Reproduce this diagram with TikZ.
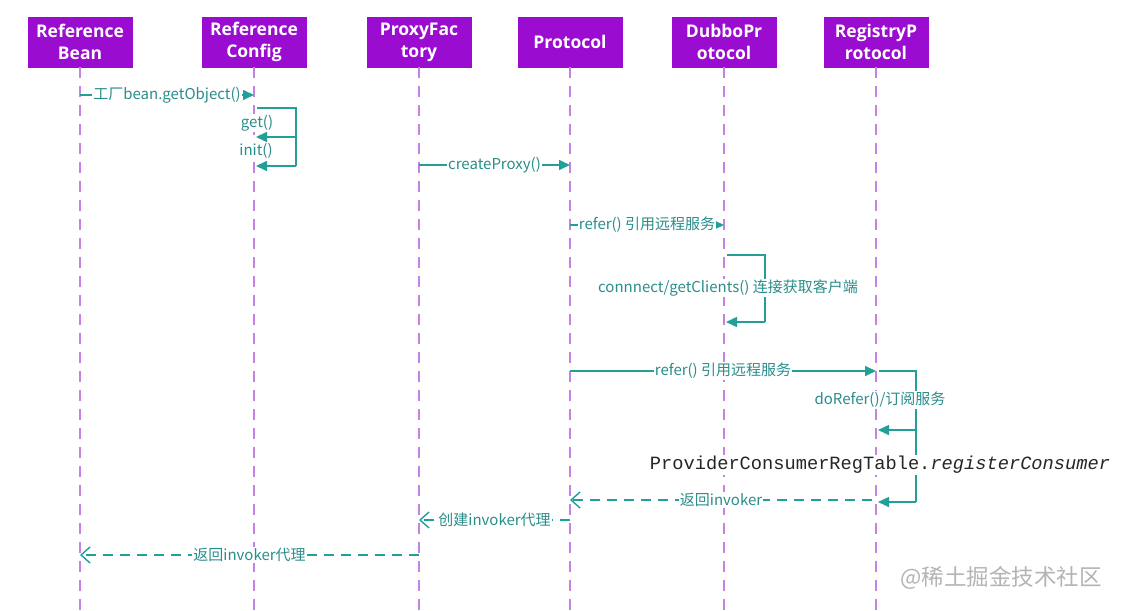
\documentclass[tikz,border=0pt]{standalone}
\usepackage{fontspec}
\setmainfont{Open Sans}
\newfontfamily\cjk{Noto Sans CJK SC}
\newfontfamily\mono{Liberation Mono}
\usetikzlibrary{arrows.meta}
\definecolor{boxpurple}{HTML}{9A0CCF}
\definecolor{lifepurple}{HTML}{C682E2}
\definecolor{tealline}{HTML}{22A098}
\definecolor{tealtext}{HTML}{2A8E8C}
\definecolor{wmgray}{HTML}{B4B4B4}
\tikzset{
  actor/.style={fill=boxpurple, draw=boxpurple, minimum width=104pt, minimum height=50pt,
    text=white, font=\bfseries\fontsize{17.5}{22}\selectfont, align=center, inner sep=0pt},
  life/.style={draw=lifepurple, line width=2pt, dash pattern=on 11pt off 8pt},
  msg/.style={draw=tealline, line width=1.6pt, -{Triangle[length=11pt,width=10pt]}},
  selfl/.style={draw=tealline, line width=1.6pt},
  ret/.style={draw=tealline, line width=1.6pt, dash pattern=on 10pt off 7pt,
    -{Straight Barb[length=9pt,width=16pt,line width=1.4pt]}},
  lbl/.style={fill=white, text=tealtext, font=\cjk\fontsize{15}{17}\selectfont, inner sep=1pt},
}
\begin{document}
\begin{tikzpicture}[x=1pt,y=-1pt]
\useasboundingbox[fill=white] (0,0) rectangle (1123,610);
% actors
\node[actor] (rb) at (80,42) {Reference\\Bean};
\node[actor] (rc) at (254,42) {Reference\\Config};
\node[actor] (pf) at (419,42) {ProxyFac\\tory};
\node[actor] (pr) at (570,42) {Protocol};
\node[actor] (dp) at (724,42) {DubboPr\\otocol};
\node[actor] (rp) at (876,42) {RegistryP\\rotocol};
% lifelines
\foreach \n in {rb,rc,pf,pr,dp,rp}{
  \coordinate (\n end) at (\n |- 0,610);
  \draw[life] (\n.south) -- (\n end);
}
% 1
\draw[msg] (rb |- 0,95) -- node[lbl]{工厂bean.getObject()} (rc |- 0,95);
% self calls on ReferenceConfig
\coordinate (rcA) at (296,108);
\coordinate (rcB) at (296,166);
\draw[selfl] ([xshift=3pt]rc |- rcA) -- (rcA) -- (rcB);
\draw[msg] (rcA |- 0,137) -- ([xshift=2pt]rc |- 0,137);
\draw[msg] (rcB) -- ([xshift=2pt]rc |- rcB);
\node[lbl, anchor=center] (lget) at (257,123) {get()};
\node[lbl, anchor=center] (linit) at (256,151) {init()};
% createProxy
\draw[msg] (pf |- 0,165) -- node[lbl]{createProxy()} (pr |- 0,165);
% refer to Dubbo
\draw[msg] (pr |- 0,225) -- node[lbl]{refer() 引用远程服务} (dp |- 0,225);
% self on DubboProtocol
\coordinate (dpA) at (765,255);
\coordinate (dpB) at (765,322);
\draw[selfl] ([xshift=3pt]dp |- dpA) -- (dpA) -- (dpB);
\draw[msg] (dpB) -- ([xshift=2pt]dp |- dpB);
\node[lbl] (lconn) at (728,288) {connnect/getClients() 连接获取客户端};
% refer to Registry
\draw[msg] (pr |- 0,371) -- node[lbl]{refer() 引用远程服务} (rp |- 0,371);
% self on RegistryProtocol
\coordinate (rpA) at (916,371);
\coordinate (rpB) at (916,502);
\draw[selfl] ([xshift=3pt]rp |- rpA) -- (rpA) -- (rpB);
\draw[msg] (rpA |- 0,430) -- ([xshift=2pt]rp |- 0,430);
\draw[msg] (rpB) -- ([xshift=2pt]rp |- rpB);
\node[lbl] (ldoref) at (880,400) {doRefer()/订阅服务};
\node[fill=white, inner sep=1pt, font=\mono\fontsize{18.7}{20}\selectfont, text=black!85] (lreg) at (880,465)
  {ProviderConsumerRegTable.\textit{registerConsumer}};
% returns
\draw[ret] ([xshift=-4pt]rp |- 0,500) -- node[lbl]{返回invoker} (pr |- 0,500);
\draw[ret] (pr |- 0,520) -- node[lbl]{创建invoker代理} (pf |- 0,520);
\draw[ret] (pf |- 0,555) -- node[lbl]{返回invoker代理} (rb |- 0,555);
% watermark
\node[text=wmgray, font=\cjk\fontsize{22.5}{25}\selectfont, inner sep=0pt] (wm) at (1001,578) {@稀土掘金技术社区};
\end{tikzpicture}
\end{document}
